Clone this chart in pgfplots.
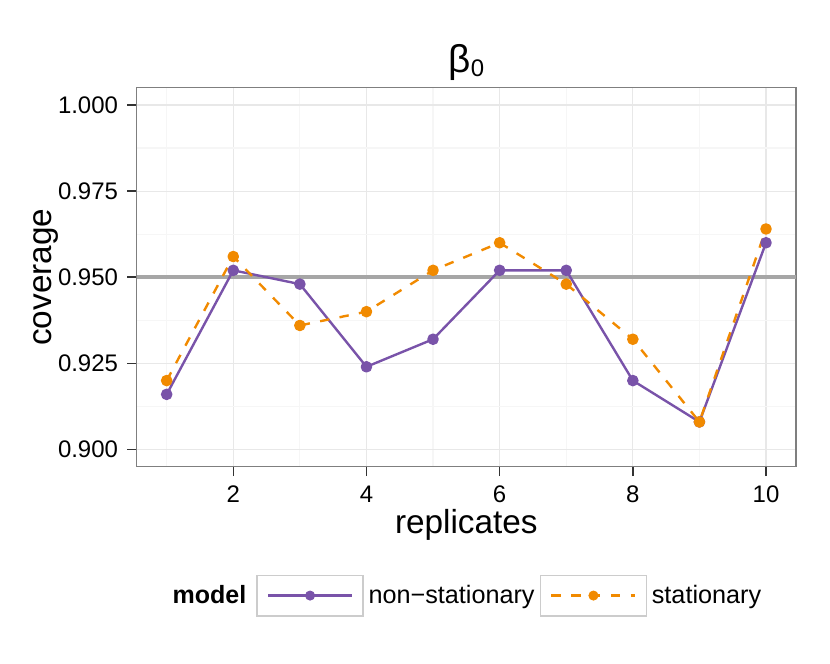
\documentclass[border=0pt]{standalone}
\usepackage{pgfplots}
\pgfplotsset{compat=1.18}
\usepackage{fontspec}
\setmainfont{Liberation Sans}
\definecolor{purp}{HTML}{7953A9}
\definecolor{orng}{HTML}{F18A00}
\definecolor{gridmaj}{HTML}{E8E8E8}
\definecolor{gridmin}{HTML}{F6F6F6}
\definecolor{framec}{HTML}{7F7F7F}
\definecolor{hl}{HTML}{A6A6A6}
\definecolor{boxgray}{HTML}{CCCCCC}
\definecolor{tickc}{HTML}{333333}
\pgfplotsset{
  keyA/.style={legend image code/.code={%
    \draw[draw=boxgray, line width=0.8bp, solid, fill=none] (0bp,-9.7bp) rectangle (50.9bp,9.7bp);
    \draw[purp, line width=1.15bp, solid] (5.3bp,0bp) -- (45.6bp,0bp);
    \fill[purp] (25.45bp,0bp) circle (2.2bp);
  }},
  keyB/.style={legend image code/.code={%
    \draw[draw=boxgray, line width=0.8bp, solid, fill=none] (0bp,-9.7bp) rectangle (50.9bp,9.7bp);
    \draw[orng, line width=1.15bp, dash pattern=on 4.5bp off 5bp] (5.3bp,0bp) -- (45.6bp,0bp);
    \fill[orng] (25.45bp,0bp) circle (2.2bp);
  }},
}
\begin{document}
\begin{tikzpicture}
\path[use as bounding box] (0bp,0bp) rectangle (398.4bp,-318.72bp);
\begin{axis}[
  at={(65.62bp,-224.02bp)}, anchor=south west,
  scale only axis, width=316.46bp, height=181.92bp,
  xmin=0.55, xmax=10.45, ymin=0.895, ymax=1.005,
  xtick={2,4,6,8,10}, ytick={0.9,0.925,0.95,0.975,1.0},
  minor xtick={1,3,5,7,9}, minor ytick={0.9125,0.9375,0.9625,0.9875},
  grid=both,
  major grid style={draw=gridmaj, line width=0.55bp},
  minor grid style={draw=gridmin, line width=0.55bp},
  axis line style={draw=framec, line width=0.75bp},
  tick align=outside, xtick pos=bottom, ytick pos=left,
  major tick length=4.5bp, minor tick length=0pt,
  major tick style={draw=tickc, line width=0.7bp},
  /pgf/number format/assume math mode=true,
  yticklabel={\pgfmathprintnumber[fixed, fixed zerofill, precision=3]{\tick}},
  xticklabel={\pgfmathprintnumber[fixed, precision=0]{\tick}},
  tick label style={font=\fontsize{11.5bp}{13bp}\selectfont, inner sep=0pt},
  yticklabel style={anchor=east, xshift=-4.3bp},
  xticklabel style={anchor=base, yshift=-12.9bp},
  xlabel={replicates}, ylabel={coverage},
  label style={font=\fontsize{16bp}{18bp}\selectfont, inner sep=0pt},
  xlabel style={at={(axis description cs:0.5,-0.175)}, anchor=base},
  ylabel style={at={(axis description cs:-0.1300,0.5)}, anchor=base},
  title={β\raisebox{-2bp}{\fontsize{11.5bp}{12bp}\selectfont 0}},
  title style={font=\fontsize{18.6bp}{20bp}\selectfont, inner sep=0pt, at={(axis description cs:0.5,1.0075)}, anchor=base},
  legend columns=-1,
  legend style={at={(axis description cs:0.0475,-0.3400)}, anchor=west, draw=none, fill=none,
    inner sep=0pt, outer sep=0pt,
    font=\fontsize{12.1bp}{14bp}\selectfont,
    nodes={inner sep=0pt},
    /tikz/every odd column/.style={column sep=2.2bp},
    /tikz/column 2/.style={column sep=4.8bp},
    /tikz/column 4/.style={column sep=2.4bp}},
]
\addplot[hl, line width=1.9bp, forget plot] coordinates {(0.55,0.95) (10.45,0.95)};
\addplot[purp, line width=1.15bp, line join=round, mark=*, mark size=2.2bp, mark options={draw=none, fill=purp}, forget plot]
  coordinates {(1,0.916) (2,0.952) (3,0.948) (4,0.924) (5,0.932) (6,0.952) (7,0.952) (8,0.920) (9,0.908) (10,0.960)};
\addplot[orng, line width=1.15bp, line join=round, dash pattern=on 4.5bp off 5bp, mark=*, mark size=2.2bp, mark options={solid, draw=none, fill=orng}, forget plot]
  coordinates {(1,0.920) (2,0.956) (3,0.936) (4,0.940) (5,0.952) (6,0.960) (7,0.948) (8,0.932) (9,0.908) (10,0.964)};
\addlegendimage{empty legend}
\addlegendentry{\textbf{\fontsize{12bp}{14bp}\selectfont model}}
\addlegendimage{keyA}
\addlegendentry{non−stationary}
\addlegendimage{keyB}
\addlegendentry{stationary}
\end{axis}
\end{tikzpicture}
\end{document}
